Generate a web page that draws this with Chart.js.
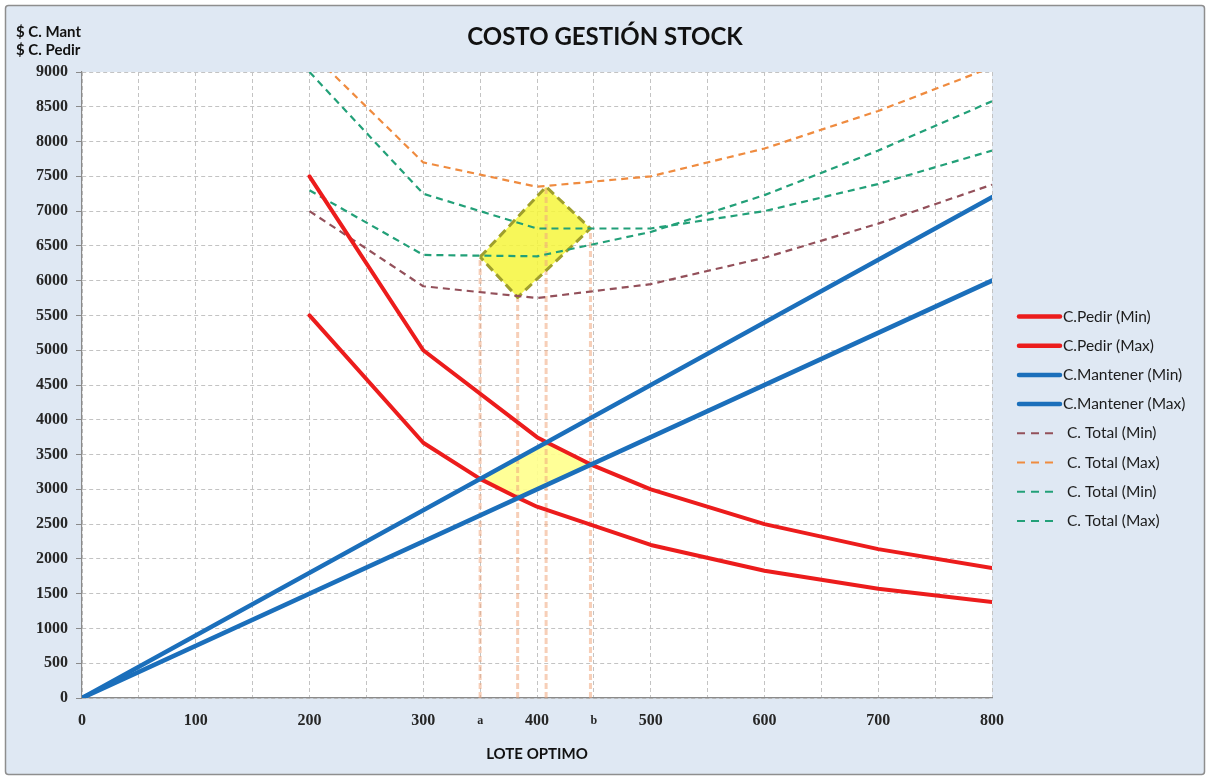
<!DOCTYPE html>
<html lang="es">
<head>
<meta charset="utf-8">
<title>Costo gestión stock</title>
<script src="https://cdn.jsdelivr.net/npm/chart.js@4.4.1/dist/chart.umd.min.js"></script>
<style>
  html, body { margin: 0; padding: 0; background: #ffffff; }
  #wrap { width: 1210px; height: 780px; }
</style>
</head>
<body>
<div id="wrap"><canvas id="grafico" width="1210" height="780"></canvas></div>
<script>
// ---- Textos ----
const titulo = 'COSTO GESTIÓN STOCK';
const ejeYTitulo = ['$ C. Mant', '$ C. Pedir'];
const ejeXTitulo = 'LOTE OPTIMO';

// ---- Costo de pedir ----
const lotesPedirMin = [200, 300, 350, 383, 400, 500, 600, 700, 800];
const pedirMin      = [5500, 3670, 3150, 2880, 2750, 2200, 1830, 1570, 1380];
const lotesPedirMax = [200, 300, 400, 408, 447, 500, 600, 700, 800];
const pedirMax      = [7500, 5000, 3750, 3680, 3360, 3000, 2500, 2140, 1870];

// ---- Costo de mantener ----
const lotesMantener = [0, 800];
const mantenerMin   = [0, 6000];
const mantenerMax   = [0, 7200];

// ---- Costos totales ----
const lotesTotal  = [200, 300, 400, 500, 600, 700, 800];
const totalMinA   = [7000, 5920, 5750, 5950, 6330, 6820, 7380];
const totalMaxA   = [9300, 7700, 7350, 7500, 7900, 8440, 9070];
const totalMinB   = [9000, 7250, 6750, 6750, 7000, 7390, 7870];
const totalMaxB   = [7300, 6370, 6350, 6700, 7230, 7870, 8580];

// ---- Cruces (izquierda, arriba, derecha, abajo) ----
const cruceLote  = [350, 408, 447, 383];
const cruceCosto = [3150, 3680, 3360, 2880];
const cruceTotal = [6340, 7350, 6750, 5760];

// ---- Ejes ----
const yMin = 0, yMax = 9000, yPaso = 500;
const xGrid = [0, 50, 100, 150, 200, 250, 300, 350, 400, 450, 500, 550, 600, 650, 700, 750, 800];
const xEtiquetaValor = [0, 100, 200, 300, 350, 400, 450, 500, 600, 700, 800];
const xEtiquetaTexto = ['0', '100', '200', '300', 'a', '400', 'b', '500', '600', '700', '800'];

// ---- Colores ----
const ROJO = '#ec1c1c';
const AZUL = '#1b6fbb';
const MARRON = '#93505a';
const NARANJA = '#ef8b3f';
const VERDE = '#22a078';

function serie(xs, ys) { return xs.map((x, i) => ({ x: x, y: ys[i] })); }
function cerrado(xs, ys) { return serie(xs.concat([xs[0]]), ys.concat([ys[0]])); }

const base = { pointRadius: 0, pointHoverRadius: 0, tension: 0, fill: false, borderJoinStyle: 'round' };
const dash = [7, 5];

const datasets = [
  { ...base, label: 'C.Pedir (Min)', enLeyenda: true, data: serie(lotesPedirMin, pedirMin), borderColor: ROJO, borderWidth: 4, borderCapStyle: 'round', order: 2 },
  { ...base, label: 'C.Pedir (Max)', enLeyenda: true, data: serie(lotesPedirMax, pedirMax), borderColor: ROJO, borderWidth: 4, borderCapStyle: 'round', order: 2 },
  { ...base, label: 'C.Mantener (Min)', enLeyenda: true, data: serie(lotesMantener, mantenerMin), borderColor: AZUL, borderWidth: 4.5, borderCapStyle: 'round', order: 1 },
  { ...base, label: 'C.Mantener (Max)', enLeyenda: true, data: serie(lotesMantener, mantenerMax), borderColor: AZUL, borderWidth: 4.5, borderCapStyle: 'round', order: 1 },
  { ...base, label: 'C. Total (Min)', enLeyenda: true, data: serie(lotesTotal, totalMinA), borderColor: MARRON, borderWidth: 2.2, borderDash: dash, order: 3 },
  { ...base, label: 'C. Total (Max)', enLeyenda: true, data: serie(lotesTotal, totalMaxA), borderColor: NARANJA, borderWidth: 2.2, borderDash: dash, order: 3 },
  { ...base, label: 'C. Total (Min)', enLeyenda: true, data: serie(lotesTotal, totalMinB), borderColor: VERDE, borderWidth: 2.2, borderDash: dash, order: 3 },
  { ...base, label: 'C. Total (Max)', enLeyenda: true, data: serie(lotesTotal, totalMaxB), borderColor: VERDE, borderWidth: 2.2, borderDash: dash, order: 3 },
  // zona óptima sobre los costos totales
  { ...base, label: 'zona total', data: cerrado(cruceLote, cruceTotal), borderColor: '#9f9f2c', borderWidth: 3, borderDash: [9, 5], relleno: 'rgba(246,246,60,0.85)', order: 4 },
  // zona óptima entre pedir y mantener
  { ...base, label: 'zona cruce', data: cerrado(cruceLote, cruceCosto), borderColor: '#8a3a1c', borderWidth: 1.2, relleno: 'rgba(255,255,140,0.9)', order: 4 },
  // líneas de proyección al eje de lotes
  ...cruceLote.map((q, i) => ({ ...base, label: 'proyección', data: serie([q, q], [0, cruceTotal[i]]), borderColor: 'rgba(240,168,125,0.55)', borderWidth: 3, borderDash: [6, 3], order: 5 }))
];

// Fondo general y área de trazado
const fondo = {
  id: 'fondo',
  beforeDraw(chart) {
    const { ctx, chartArea: a } = chart;
    ctx.save();
    ctx.fillStyle = '#ffffff';
    ctx.fillRect(0, 0, chart.width, chart.height);
    ctx.beginPath();
    if (ctx.roundRect) ctx.roundRect(5.5, 5.5, chart.width - 11, chart.height - 11, 3);
    else ctx.rect(5.5, 5.5, chart.width - 11, chart.height - 11);
    ctx.fillStyle = '#dfe8f3';
    ctx.fill();
    ctx.strokeStyle = '#8e8e8e';
    ctx.lineWidth = 1.5;
    ctx.stroke();
    ctx.fillStyle = '#ffffff';
    ctx.fillRect(a.left, a.top, a.right - a.left, a.bottom - a.top);
    ctx.restore();
  }
};

// Relleno de las zonas cerradas, debajo de todas las líneas
const zonas = {
  id: 'zonas',
  beforeDatasetsDraw(chart) {
    const ctx = chart.ctx;
    const a = chart.chartArea;
    chart.data.datasets.forEach((ds, i) => {
      if (!ds.relleno) return;
      const pts = chart.getDatasetMeta(i).data;
      ctx.save();
      ctx.beginPath();
      ctx.rect(a.left, a.top, a.right - a.left, a.bottom - a.top);
      ctx.clip();
      ctx.beginPath();
      pts.forEach((p, j) => j ? ctx.lineTo(p.x, p.y) : ctx.moveTo(p.x, p.y));
      ctx.closePath();
      ctx.fillStyle = ds.relleno;
      ctx.fill();
      ctx.restore();
    });
  }
};

// Título, rótulo del eje vertical y leyenda
const textos = {
  id: 'textos',
  afterDraw(chart) {
    const { ctx, chartArea: a } = chart;
    ctx.save();
    ctx.fillStyle = '#111111';
    ctx.textBaseline = 'alphabetic';
    ctx.textAlign = 'center';
    ctx.font = 'bold 24px Lato, "Liberation Sans", sans-serif';
    ctx.fillText(titulo, chart.width / 2, 45);

    ctx.textAlign = 'left';
    ctx.font = 'bold 15px Lato, "Liberation Sans", sans-serif';
    ctx.fillText(ejeYTitulo[0], 16, 37);
    ctx.fillText(ejeYTitulo[1], 16, 55);

    // leyenda
    const items = chart.data.datasets.filter(d => d.enLeyenda);
    const x0 = a.right + 25;
    const y0 = 316.5;
    const paso = 29.2;
    ctx.font = '15.5px Lato, "Liberation Sans", sans-serif';
    ctx.textBaseline = 'middle';
    items.forEach((d, i) => {
      const y = y0 + i * paso;
      ctx.save();
      ctx.strokeStyle = d.borderColor;
      ctx.beginPath();
      let xt;
      if (d.borderDash) {
        ctx.lineWidth = 2;
        ctx.setLineDash([8, 6]);
        ctx.moveTo(x0, y);
        ctx.lineTo(x0 + 36, y);
        xt = x0 + 50;
      } else {
        ctx.lineWidth = 4.5;
        ctx.lineCap = 'round';
        ctx.moveTo(x0 + 2, y);
        ctx.lineTo(x0 + 43, y);
        xt = x0 + 46;
      }
      ctx.stroke();
      ctx.restore();
      ctx.fillStyle = '#1c1c1c';
      ctx.fillText(d.label, xt, y);
    });
    ctx.restore();
  }
};

const fuenteNum = { family: '"Liberation Serif", "Times New Roman", serif', size: 16, weight: 'bold', lineHeight: 1.2 };
const fuenteLetra = { family: '"Liberation Serif", "Times New Roman", serif', size: 12, weight: 'bold', lineHeight: 1.6 };
const GRIS_GRID = '#c3c3c3';
const GRIS_EJE = '#8a8a8a';

new Chart(document.getElementById('grafico'), {
  type: 'line',
  data: { datasets: datasets },
  plugins: [fondo, zonas, textos],
  options: {
    responsive: false,
    animation: false,
    devicePixelRatio: 1,
    events: [],
    layout: { padding: { left: 0, top: 72, right: 218, bottom: 0 } },
    plugins: {
      legend: { display: false },
      tooltip: { enabled: false },
      title: { display: false }
    },
    scales: {
      x: {
        type: 'linear',
        min: 0,
        max: 800,
        afterBuildTicks(scale) { scale.ticks = xGrid.map(v => ({ value: v })); },
        afterFit(scale) { scale.height = 82; },
        grid: { color: GRIS_GRID, lineWidth: 1, drawTicks: false },
        border: { display: true, color: GRIS_EJE, width: 1.2, dash: [4, 3] },
        ticks: {
          autoSkip: false,
          maxRotation: 0,
          padding: 13,
          color: '#262626',
          callback(value) {
            const i = xEtiquetaValor.indexOf(value);
            return i >= 0 ? xEtiquetaTexto[i] : '';
          },
          font(c) {
            const v = c.tick ? c.tick.value : null;
            const i = xEtiquetaValor.indexOf(v);
            const t = i >= 0 ? xEtiquetaTexto[i] : '0';
            return /\d/.test(t) ? fuenteNum : fuenteLetra;
          }
        },
        title: {
          display: true,
          text: ejeXTitulo,
          color: '#111111',
          font: { family: 'Lato, "Liberation Sans", sans-serif', size: 15, weight: 'bold', lineHeight: 1.2 },
          padding: { top: 0, bottom: 17 }
        }
      },
      y: {
        type: 'linear',
        min: yMin,
        max: yMax,
        afterFit(scale) { scale.width = 82; },
        grid: { color: GRIS_GRID, lineWidth: 1, drawTicks: true, tickLength: 6, tickColor: GRIS_EJE, tickBorderDash: [] },
        border: { display: true, color: GRIS_EJE, width: 1.2, dash: [4, 3] },
        ticks: {
          stepSize: yPaso,
          padding: 8,
          color: '#262626',
          font: fuenteNum,
          callback(value) { return String(value); }
        }
      }
    }
  }
});
</script>
</body>
</html>
